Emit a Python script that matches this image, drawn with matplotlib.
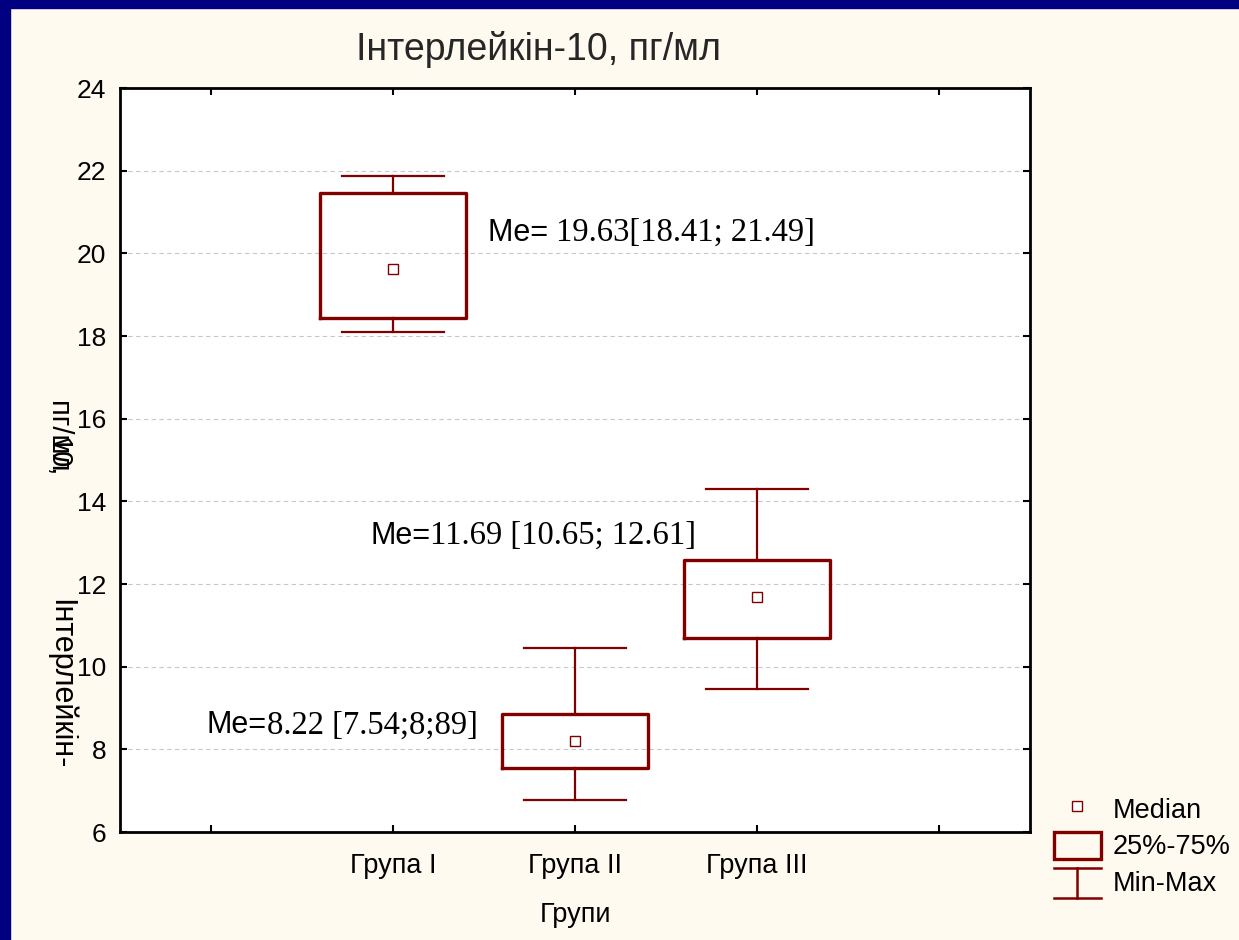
import numpy as np
import matplotlib.pyplot as plt
from matplotlib.lines import Line2D
from matplotlib.patches import Rectangle
from matplotlib.legend_handler import HandlerBase

# дані з картинки
groups = ['Група I', 'Група II', 'Група III']
positions = [2, 3, 4]
mins = [18.10, 6.77, 9.46]
q1s = [18.44, 7.56, 10.69]
medians = [19.63, 8.20, 11.68]
q3s = [21.47, 8.86, 12.58]
maxs = [21.88, 10.46, 14.31]
notes = ['19.63[18.41; 21.49]', '11.69 [10.65; 12.61]', '8.22 [7.54;8;89]']
notes_sep = ['Me= ', 'Me=', 'Me=']
notes_xy = [(2.52, 20.5), (1.875, 13.17), (0.975, 8.58)]

red = '#800000'
cream = '#FFFAEF'
navy = '#000080'
sans = 'Liberation Sans'
serif = 'Liberation Serif'

plt.rcParams['font.family'] = sans

fig = plt.figure(figsize=(12.39, 9.40), dpi=100, facecolor=cream)
ax = fig.add_axes([120/1239, 1-832/940, 910/1239, 744/940])
ax.set_facecolor('white')

stats = []
for i in range(len(groups)):
    stats.append({'med': medians[i], 'q1': q1s[i], 'q3': q3s[i],
                  'whislo': mins[i], 'whishi': maxs[i], 'label': groups[i]})

ax.bxp(stats, positions=positions, widths=0.8, capwidths=0.56, showfliers=False,
       boxprops=dict(color=red, linewidth=2.4),
       whiskerprops=dict(color=red, linewidth=1.6),
       capprops=dict(color=red, linewidth=1.6),
       medianprops=dict(visible=False), zorder=3)
ax.plot(positions, medians, 's', ms=7.5, mfc='white', mec=red, mew=1.0, ls='none', zorder=4)

# підписи Me=
for i in range(len(notes)):
    t1 = ax.text(notes_xy[i][0], notes_xy[i][1], notes_sep[i], fontsize=22,
                 family=sans, va='center', ha='left', zorder=5)
    ax.annotate(notes[i], xy=(1, 0), xycoords=t1, va='bottom', ha='left',
                fontsize=23.5, family=serif, zorder=5)

ax.set_xlim(0.5, 5.5)
ax.set_ylim(6, 24)
ax.set_xticks([1, 2, 3, 4, 5])
ax.set_xticklabels(['', groups[0], groups[1], groups[2], ''])
ax.set_yticks(np.arange(6, 25, 2))
ax.tick_params(direction='in', top=True, right=True, length=5, width=1.5,
               labelsize=19, pad=10)
ax.tick_params(axis='x', pad=15, labelsize=19.5)
for s in ax.spines.values():
    s.set_linewidth(2)
ax.yaxis.grid(True, ls=(0, (4, 3)), color='#c8c8c8', lw=0.8)
ax.set_axisbelow(True)

fig.text(538/1239, 1-50/940, 'Інтерлейкін-10, пг/мл', fontsize=27,
         ha='center', va='center', color='#262626')
ax.set_xlabel('Групи', fontsize=19.5, labelpad=17)

# підпис осі Y (накладений, як в оригіналі)
fig.text(60/1239, 1-684/940, 'Інтерлейкін-', rotation=270, fontsize=22,
         ha='center', va='center')
fig.text(58/1239, 1-437/940, 'пг/мл', rotation=270, fontsize=21,
         ha='center', va='center')
fig.text(58/1239, 1-457/940, '10,', rotation=270, fontsize=21,
         ha='center', va='center')


class MinMaxHandler(HandlerBase):
    def create_artists(self, legend, orig_handle, xdescent, ydescent,
                       width, height, fontsize, trans):
        x0 = -xdescent
        y0 = -ydescent
        xm = x0 + width / 2
        lo = y0 - height * 0.1
        hi = y0 + height * 1.0
        a = Line2D([x0, x0 + width], [hi, hi], color=red, lw=1.8, transform=trans)
        b = Line2D([x0, x0 + width], [lo, lo], color=red, lw=1.8, transform=trans)
        c = Line2D([xm, xm], [lo, hi], color=red, lw=1.8, transform=trans)
        return [a, b, c]


h_med = Line2D([], [], marker='s', ms=7.5, mfc='white', mec=red, mew=1.0, ls='none')
h_box = Rectangle((0, 0), 1, 1, facecolor='none', edgecolor=red, lw=2.4)
h_mm = Line2D([], [], color=red)
fig.legend([h_med, h_box, h_mm], ['Median', '25%-75%', 'Min-Max'],
           handler_map={h_mm: MinMaxHandler()},
           loc='upper left', bbox_to_anchor=(1035/1239, 1-776/940),
           frameon=False, fontsize=19.5, handlelength=1.72, handleheight=1.15,
           handletextpad=0.45, labelspacing=0.3, borderpad=0.2)

# синя рамка зверху і зліва
fig.add_artist(Rectangle((0, 0), 10/1239, 1, transform=fig.transFigure,
                         color=navy, zorder=10))
fig.add_artist(Rectangle((0, 1-8/940), 1, 8/940, transform=fig.transFigure,
                         color=navy, zorder=10))

fig.savefig('out.png', dpi=100, facecolor=cream)
